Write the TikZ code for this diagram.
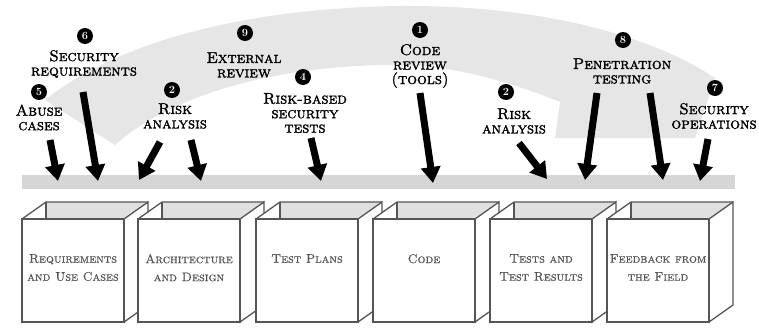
\documentclass[tikz,border=0pt]{standalone}
\usepackage{fontspec}
\newfontfamily\lblfont[FakeBold=1.6]{lmromancaps10-regular.otf}
\newfontfamily\boxfont[FakeBold=0.6]{lmromancaps10-regular.otf}
\usetikzlibrary{arrows.meta}
\definecolor{swoosh}{HTML}{E6E6E6}
\definecolor{barc}{HTML}{D6D6D6}
\definecolor{boxline}{HTML}{555555}
\definecolor{innerc}{HTML}{E0E0E0}
\definecolor{boxtext}{HTML}{555555}
\newcommand\sdlcbox[3]{%
  \fill[white] (#1,219) -- (#1+24,202) -- (#1+126,202) -- (#1+102,219) -- cycle;
  \fill[innerc] (#1+24,202) -- (#1+126,202) -- (#1+102,219) -- (#1+24,219) -- cycle;
  \filldraw[fill=white, boxedge] (#1+102,219) -- (#1+126,202) -- (#1+126,305) -- (#1+102,322) -- cycle;
  \filldraw[fill=white, boxedge] (#1,219) rectangle (#1+102,322);
  \draw[boxedge] (#1,219) -- (#1+24,202) -- (#1+126,202);
  \draw[boxedge] (#1+24,202) -- (#1+24,219);
  \node[boxlabel] (#2) at (#1+51,254) {#3};
}
\begin{document}
\begin{tikzpicture}[x=1pt,y=-1pt,
  boxedge/.style={draw=boxline, line width=1.3pt, line join=miter},
  boxlabel/.style={anchor=north, font=\boxfont\fontsize{12.5}{18}\selectfont, text=boxtext, align=center, inner sep=0pt},
  lbl/.style={font=\lblfont\fontsize{15.5}{14.5}\selectfont, align=center, inner sep=0pt, text=black},
  num/.style={circle, fill=black, text=white, font=\fontsize{11}{11}\selectfont\bfseries, inner sep=0pt, minimum size=16pt},
  bigarrow/.style={line width=7pt, -{Triangle[width=19pt,length=16pt]}}]
\useasboundingbox (0,0) rectangle (759,332);
\fill[white] (0,0) rectangle (759,332);
% background swoosh
\fill[swoosh] (45,100) .. controls (120,40) and (250,8) .. (400,6)
  .. controls (540,5) and (650,35) .. (715,78) -- (695,138) -- (555,138) -- (560,102)
  .. controls (480,70) and (430,64) .. (380,65)
  .. controls (260,68) and (165,100) .. (115,145) -- cycle;
% bar
\fill[barc] (22,175) rectangle (735,189);
% boxes
\sdlcbox{22}{b1}{Requirements\\and Use Cases}
\sdlcbox{138}{b2}{Architecture\\and Design}
\sdlcbox{256}{b3}{Test Plans}
\sdlcbox{373}{b4}{Code}
\sdlcbox{490}{b5}{Tests and\\Test Results}
\sdlcbox{607}{b6}{Feedback from\\the Field}
% numbers
\node[num] (n6) at (85,36) {6};
\node[num] (n5) at (39,92) {5};
\node[num] (n2a) at (172,90) {2};
\node[num] (n9) at (245,33) {9};
\node[num] (n4) at (303,77) {4};
\node[num] (n1) at (420,30) {1};
\node[num] (n2b) at (506,92) {2};
\node[num] (n8) at (623,40) {8};
\node[num] (n7) at (715,88) {7};
% labels
\node[lbl] (l6) at (84,64) {Security\\requirements};
\node[lbl] (l5) at (39,117.5) {Abuse\\cases};
\node[lbl] (l2a) at (175,116) {Risk\\analysis};
\node[lbl] (l9) at (244,65) {External\\review};
\node[lbl] (l4) at (305,113) {Risk-based\\security\\tests};
\node[lbl] (l1) at (420,66) {Code\\review\\(tools)};
\node[lbl] (l2b) at (514,121) {Risk\\analysis};
\node[lbl] (l8) at (622,71) {Penetration\\testing};
\node[lbl] (l7) at (714,116) {Security\\operations};
% arrow end points
\coordinate (s5) at (50,140);   \coordinate (e5) at (58,181);
\coordinate (s6) at (83,92);    \coordinate (e6) at (98,181);
\coordinate (s2l) at (160,142); \coordinate (e2l) at (139,180);
\coordinate (s2r) at (191,140); \coordinate (e2r) at (201,181);
\coordinate (s4) at (311,138);  \coordinate (e4) at (321,181);
\coordinate (s1) at (420,93);   \coordinate (e1) at (433,183);
\coordinate (s2b) at (519,143); \coordinate (e2b) at (547,179);
\coordinate (s8l) at (597,93);  \coordinate (e8l) at (585,180);
\coordinate (s8r) at (650,93);  \coordinate (e8r) at (663,180);
\coordinate (s7) at (708,139);  \coordinate (e7) at (700,181);
\foreach \a in {5,6,2l,2r,4,1,2b,8l,8r,7}
  \draw[bigarrow] (s\a) -- (e\a);
\end{tikzpicture}
\end{document}
